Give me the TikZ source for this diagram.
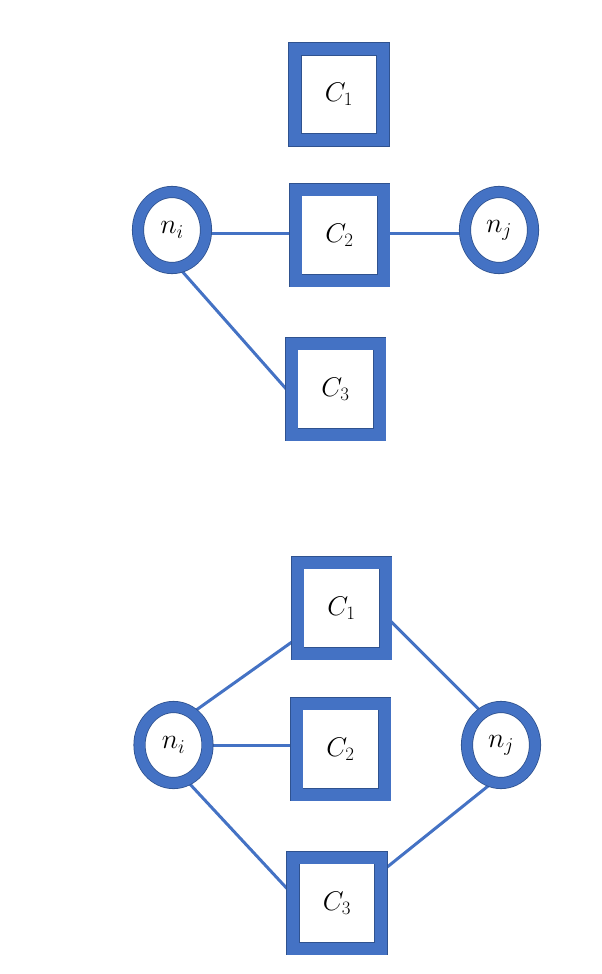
\RequirePackage{fix-cm}
\documentclass[tikz,border=0pt]{standalone}
\usetikzlibrary{shapes.geometric,backgrounds}
\definecolor{bl}{HTML}{4472C4}
\definecolor{dk}{HTML}{2F528F}
\begin{document}
\begin{tikzpicture}[x=1pt,y=-1pt,
  cbox/.style={draw=dk, double=bl, double distance=12pt, line width=0.8pt,
    fill=white, inner sep=0pt, outer sep=0pt, minimum width=88pt, minimum height=91pt,
    font=\fontsize{27}{32}\selectfont},
  nnode/.style={ellipse, draw=dk, double=bl, double distance=10.5pt, line width=0.8pt,
    fill=white, inner sep=0pt, outer sep=0pt, minimum width=68pt, minimum height=76pt,
    font=\fontsize{28}{32}\selectfont},
  edge/.style={draw=bl, line width=3pt}]
\useasboundingbox (0,0) rectangle (602,974);
% top diagram
\node[cbox] (tc1) at (339,94.5) {$C_1$};
\node[cbox] (tc2) at (339.5,235) {$C_2$};
\node[cbox] (tc3) at (335.5,389) {$C_3$};
\node[nnode] (tni) at (172,230) {$n_i$};
\node[nnode] (tnj) at (499,230) {$n_j$};
% bottom diagram
\node[cbox] (bc1) at (341.5,608) {$C_1$};
\node[cbox] (bc2) at (340.5,749) {$C_2$};
\node[cbox] (bc3) at (337,903) {$C_3$};
\node[nnode] (bni) at (173.5,745) {$n_i$};
\node[nnode] (bnj) at (501,745) {$n_j$};
\begin{scope}[on background layer]
\draw[edge] (tni.east |- 0,233) -- (tc2.west |- 0,233);
\draw[edge] (tc2.east |- 0,233) -- (tnj.west |- 0,233);
\draw[edge] (tni.-80) -- ([yshift=-6pt]tc3.west);
\draw[edge] (bni.60) -- ([yshift=-30pt]bc1.west);
\draw[edge] (bni.east |- 0,745) -- (bc2.west |- 0,745);
\draw[edge] (bni.-70) -- ([yshift=8pt]bc3.west);
\draw[edge] ([yshift=-8pt]bc1.east) -- (bnj.120);
\draw[edge] ([yshift=31pt]bc3.east) -- (bnj.-102);
\end{scope}
\end{tikzpicture}
\end{document}
